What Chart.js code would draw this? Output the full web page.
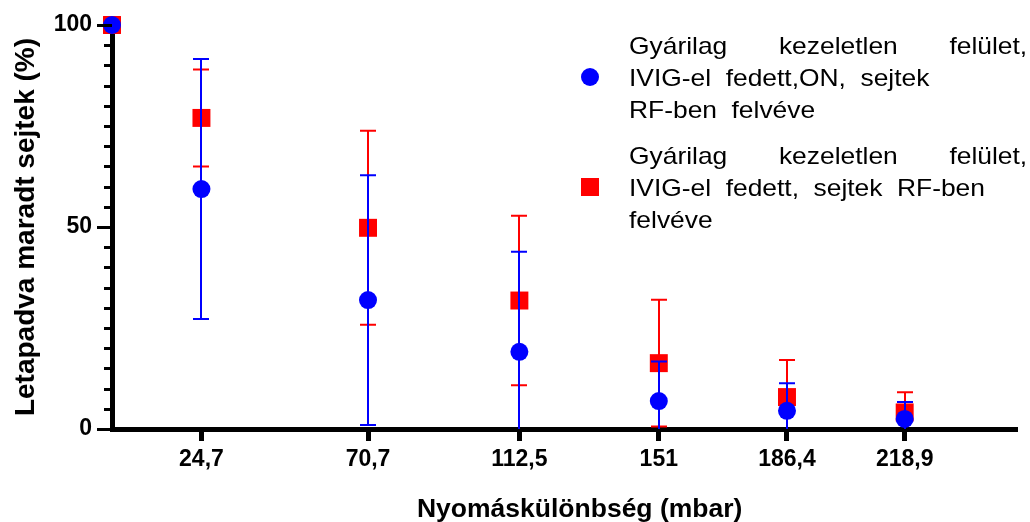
<!DOCTYPE html>
<html>
<head>
<meta charset="utf-8">
<script src="https://cdn.jsdelivr.net/npm/chart.js@4.4.0/dist/chart.umd.min.js"></script>
<style>
    body { margin: 0; background: #fff; }
    #wrap { position: relative; width: 1030px; height: 522px; }
    .leg { position: absolute; left: 629px; width: 362px; transform: scaleX(1.1); transform-origin: 0 0;
           font: 24px "Liberation Sans", Arial, sans-serif; line-height: 32.2px; color: #000; word-spacing: 6.5px; }
    .leg .first { text-align: justify; text-align-last: justify; word-spacing: 0; }
    .mark { position: absolute; width: 18px; height: 18px; }
</style>
</head>
<body>
<div id="wrap">
    <canvas id="chart" width="1030" height="522"></canvas>
    <div id="legend"></div>
</div>
<script>
// pressure difference (mbar)
const pressures = [0, 24.7, 70.7, 112.5, 151, 186.4, 218.9];
const xTickVals = [24.7, 70.7, 112.5, 151, 186.4, 218.9];
const xTickLabels = ['24,7', '70,7', '112,5', '151', '186,4', '218,9'];
const yTickLabels = [0, 50, 100];

// blue: IVIG, ON
const blueMean = [100, 59.4, 31.9, 19.1, 6.9, 4.5, 2.5];
const blueSD = [0, 32.2, 30.9, 24.8, 9.8, 6.8, 4.2];
// red: IVIG
const redMean = [100, 77.0, 49.8, 31.8, 16.3, 7.9, 4.1];
const redSD = [0, 12.0, 24.0, 21.0, 15.7, 9.2, 5.0];

const blueLabel = ['Gyárilag kezeletlen felület,', 'IVIG-el fedett,ON, sejtek', 'RF-ben felvéve'];
const redLabel = ['Gyárilag kezeletlen felület,', 'IVIG-el fedett, sejtek RF-ben', 'felvéve'];

const FONT = '"Liberation Sans", Arial, sans-serif';
Chart.defaults.color = '#000';
Chart.defaults.font.family = FONT;

const toPoints = (ys) => pressures.map((x, i) => ({ x, y: ys[i] }));

// error bars drawn just before each dataset so markers sit on top
const errorBars = {
    id: 'errorBars',
    beforeDatasetDraw(chart, args) {
        const ds = chart.data.datasets[args.index];
        if (!ds.sd) return;
        const y = chart.scales.y;
        const ctx = chart.ctx;
        ctx.save();
        ctx.strokeStyle = ds.backgroundColor;
        ctx.lineWidth = 2;
        args.meta.data.forEach((pt, i) => {
            const sd = ds.sd[i];
            if (!sd) return;
            const m = ds.data[i].y;
            const lo = m - sd;
            const px = Math.round(pt.x);
            const top = y.getPixelForValue(m + sd);
            const bottom = y.getPixelForValue(Math.max(lo, y.min));
            ctx.beginPath();
            ctx.moveTo(px, top);
            ctx.lineTo(px, bottom);
            ctx.moveTo(px - 8, top);
            ctx.lineTo(px + 8, top);
            if (lo >= y.min) {
                ctx.moveTo(px - 8, bottom);
                ctx.lineTo(px + 8, bottom);
            }
            ctx.stroke();
        });
        ctx.restore();
    }
};

// y tick marks (long for labelled ticks), and the x axis title
const axisExtras = {
    id: 'axisExtras',
    afterDraw(chart) {
        const { ctx, chartArea, scales } = chart;
        ctx.save();
        ctx.strokeStyle = '#000';
        ctx.lineWidth = 3;
        scales.y.ticks.forEach(t => {
            const py = Math.round(scales.y.getPixelForValue(t.value)) + 0.5;
            const len = yTickLabels.includes(t.value) ? 15 : 8;
            ctx.beginPath();
            ctx.moveTo(chartArea.left - len, py);
            ctx.lineTo(chartArea.left, py);
            ctx.stroke();
        });
        ctx.fillStyle = '#000';
        ctx.font = 'bold 26.5px ' + FONT;
        ctx.textAlign = 'center';
        ctx.textBaseline = 'middle';
        ctx.fillText('Nyomáskülönbség (mbar)', (chartArea.left + chartArea.right) / 2 + 15, 510);
        ctx.restore();
    }
};

const chart = new Chart(document.getElementById('chart'), {
    type: 'scatter',
    data: {
        datasets: [{
            label: blueLabel.join(' '),
            data: toPoints(blueMean),
            sd: blueSD,
            backgroundColor: '#0000ff',
            borderWidth: 0,
            pointStyle: 'circle',
            pointRadius: 9,
            pointHoverRadius: 9,
            clip: false
        }, {
            label: redLabel.join(' '),
            data: toPoints(redMean),
            sd: redSD,
            backgroundColor: '#ff0000',
            borderWidth: 0,
            pointStyle: 'rect',
            pointRadius: 12.7,
            pointHoverRadius: 12.7,
            clip: false
        }]
    },
    options: {
        responsive: false,
        animation: false,
        devicePixelRatio: 1,
        layout: { padding: { top: 25, right: 0, left: 0, bottom: 0 } },
        plugins: {
            legend: { display: false },
            tooltip: { enabled: false }
        },
        scales: {
            x: {
                type: 'linear',
                min: 0,
                max: 250,
                afterFit: s => { s.height = 93; s.paddingLeft = 0; s.paddingRight = 0; },
                afterBuildTicks: s => { s.ticks = xTickVals.map(v => ({ value: v })); },
                border: { display: true, color: '#000', width: 5 },
                grid: { drawOnChartArea: false, drawTicks: true, tickLength: 12, tickWidth: 5, tickColor: '#000' },
                ticks: {
                    autoSkip: false,
                    maxRotation: 0,
                    padding: 5,
                    font: { size: 23, weight: 'bold' },
                    callback: (v, i) => xTickLabels[i]
                }
            },
            y: {
                min: 0,
                max: 100,
                afterFit: s => { s.width = 112; s.paddingTop = 0; s.paddingBottom = 0; },
                border: { display: true, color: '#000', width: 5 },
                grid: { drawOnChartArea: false, drawTicks: false },
                ticks: {
                    stepSize: 5,
                    maxTicksLimit: 21,
                    autoSkip: false,
                    padding: 20,
                    font: { size: 23, weight: 'bold' },
                    callback: v => yTickLabels.includes(v) ? String(v) : ''
                },
                title: {
                    display: true,
                    text: 'Letapadva maradt sejtek (%)',
                    font: { size: 28, weight: 'bold' },
                    padding: { top: 9, bottom: 0 }
                }
            }
        }
    },
    plugins: [errorBars, axisExtras]
});

// legend as html, built from the datasets
const legendTops = [30, 140];
const legendLines = [blueLabel, redLabel];
const legend = document.getElementById('legend');
chart.data.datasets.forEach((ds, k) => {
    const mark = document.createElement('div');
    mark.className = 'mark';
    mark.style.left = '581px';
    mark.style.top = (legendTops[k] + 38) + 'px';
    mark.style.background = ds.backgroundColor;
    if (ds.pointStyle === 'circle') mark.style.borderRadius = '50%';
    legend.appendChild(mark);

    const box = document.createElement('div');
    box.className = 'leg';
    box.style.top = legendTops[k] + 'px';
    box.innerHTML = legendLines[k].map((t, i) => `<div class="${i === 0 ? 'first' : ''}">${t}</div>`).join('');
    legend.appendChild(box);
});
</script>
</body>
</html>
